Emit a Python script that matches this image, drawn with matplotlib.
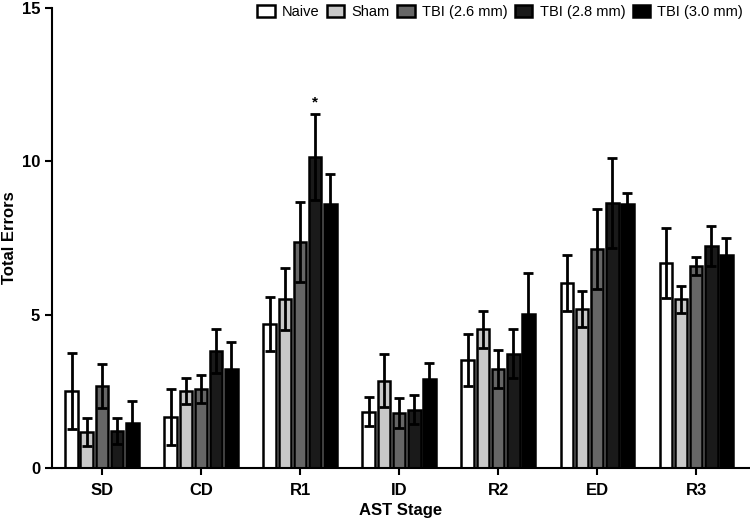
import numpy as np
import matplotlib.pyplot as plt

plt.rcParams['font.family'] = ['Liberation Sans', 'DejaVu Sans']

stages = ["SD", "CD", "R1", "ID", "R2", "ED", "R3"]
groups = ["Naive", "Sham", "TBI (2.6 mm)", "TBI (2.8 mm)", "TBI (3.0 mm)"]
colors = ["#ffffff", "#c8c8c8", "#666666", "#1a1a1a", "#000000"]

# mean total errors per stage, one list per group
naive = [2.51, 1.66, 4.69, 1.83, 3.52, 6.03, 6.68]
sham = [1.17, 2.51, 5.51, 2.85, 4.52, 5.18, 5.50]
tbi26 = [2.67, 2.58, 7.37, 1.79, 3.23, 7.14, 6.58]
tbi28 = [1.21, 3.81, 10.14, 1.90, 3.72, 8.65, 7.24]
tbi30 = [1.47, 3.23, 8.60, 2.90, 5.02, 8.60, 6.94]

# SEM
naive_err = [1.24, 0.92, 0.89, 0.47, 0.85, 0.92, 1.14]
sham_err = [0.46, 0.42, 1.00, 0.87, 0.60, 0.59, 0.43]
tbi26_err = [0.72, 0.45, 1.30, 0.50, 0.62, 1.30, 0.30]
tbi28_err = [0.42, 0.72, 1.40, 0.48, 0.80, 1.47, 0.65]
tbi30_err = [0.71, 0.87, 1.00, 0.52, 1.34, 0.37, 0.56]

means = [naive, sham, tbi26, tbi28, tbi30]
errs = [naive_err, sham_err, tbi26_err, tbi28_err, tbi30_err]

fig = plt.figure(figsize=(7.5, 5.21), dpi=100)
ax = fig.add_axes([0.0693, 0.1017, 0.9294, 0.8829])

x = np.arange(len(stages))
pitch = 0.152
w = 0.13
for i in range(5):
    pos = x + (i - 2) * pitch
    ax.bar(pos, means[i], width=w, color=colors[i], edgecolor='black',
           linewidth=1.8, label=groups[i], zorder=2)
    ax.errorbar(pos, means[i], yerr=errs[i], fmt='none', ecolor='black',
                elinewidth=2, capsize=3.5, capthick=2, zorder=3)

# significance marker on R1, TBI (2.8 mm)
ax.text(2 + pitch, tbi28[2] + tbi28_err[2] + 0.15, "*", ha='center',
        va='bottom', fontsize=11, fontweight='bold')

ax.set_xlim(-0.505, 6.535)
ax.set_ylim(0, 15)
ax.set_yticks([0, 5, 10, 15])
ax.set_xticks(x)
ax.set_xticklabels(stages)
for lab in ax.get_xticklabels() + ax.get_yticklabels():
    lab.set_fontweight('bold')
    lab.set_fontsize(12)
ax.tick_params(axis='both', width=1.5, length=5, direction='out')
ax.tick_params(axis='x', pad=6)
ax.spines['top'].set_visible(False)
ax.spines['right'].set_visible(False)
ax.spines['left'].set_linewidth(1.5)
ax.spines['bottom'].set_linewidth(1.5)

ax.set_xlabel("AST Stage", fontsize=12, fontweight='bold')
ax.xaxis.set_label_coords(0.5, -0.075)
ax.set_ylabel("Total Errors", fontsize=12, fontweight='bold')
ax.yaxis.set_label_coords(-0.05, 0.5)

ax.legend(loc='upper right', ncol=5, frameon=False, fontsize=10.5,
          handlelength=1.2, handleheight=0.9, columnspacing=0.5,
          handletextpad=0.5, borderaxespad=0.0, bbox_to_anchor=(1.0, 1.02))

fig.savefig("out.png", dpi=100)
